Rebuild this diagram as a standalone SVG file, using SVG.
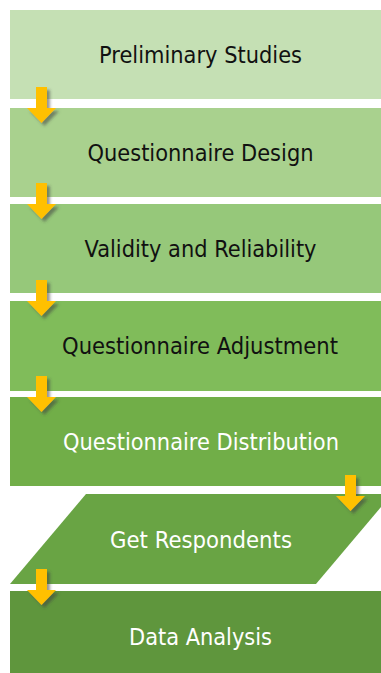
<svg xmlns="http://www.w3.org/2000/svg" width="381" height="673" viewBox="0 0 381 673">
  <style>
    .lbl { font-family: "DejaVu Sans", "Liberation Sans", sans-serif; font-size: 23px; text-anchor: middle; }
    .dark { fill: #111111; }
    .light { fill: #ffffff; }
    .arrow { fill: #FFC000; filter: url(#arrowShadow); }
  </style>
  <defs>
    <filter id="arrowShadow" x="-50%" y="-50%" width="200%" height="200%">
      <feGaussianBlur in="SourceAlpha" stdDeviation="1.4"/>
      <feOffset dx="3" dy="3" result="blur"/>
      <feFlood flood-color="#404040" flood-opacity="0.55"/>
      <feComposite in2="blur" operator="in"/>
      <feMerge>
        <feMergeNode/>
        <feMergeNode in="SourceGraphic"/>
      </feMerge>
    </filter>
    <!-- down arrow, origin at top centre of the shaft -->
    <path id="downArrow" d="M-5.5,0 h11 v21 h9 l-14.5,15 l-14.5,-15 h9 z"/>
  </defs>
  <rect width="381" height="673" fill="#ffffff"/>

  <g id="preliminary-studies">
    <rect x="10" y="10" width="381" height="89" fill="#C5E0B4"/>
    <text class="lbl dark" x="200.5" y="63" textLength="203" lengthAdjust="spacingAndGlyphs">Preliminary Studies</text>
  </g>
  <g id="questionnaire-design">
    <rect x="10" y="108" width="381" height="89" fill="#A9D18E"/>
    <text class="lbl dark" x="200.5" y="161" textLength="226" lengthAdjust="spacingAndGlyphs">Questionnaire Design</text>
  </g>
  <g id="validity-reliability">
    <rect x="10" y="204" width="381" height="89" fill="#96C87A"/>
    <text class="lbl dark" x="200.5" y="257" textLength="232" lengthAdjust="spacingAndGlyphs">Validity and Reliability</text>
  </g>
  <g id="questionnaire-adjustment">
    <rect x="10" y="301" width="381" height="90" fill="#80BC5A"/>
    <text class="lbl dark" x="200" y="354" textLength="276" lengthAdjust="spacingAndGlyphs">Questionnaire Adjustment</text>
  </g>
  <g id="questionnaire-distribution">
    <rect x="10" y="397" width="381" height="89" fill="#71AE48"/>
    <text class="lbl light" x="201" y="450" textLength="276" lengthAdjust="spacingAndGlyphs">Questionnaire Distribution</text>
  </g>
  <g id="get-respondents">
    <polygon points="86,494 392,494 316,584 10,584" fill="#69A444"/>
    <text class="lbl light" x="201" y="548" textLength="182" lengthAdjust="spacingAndGlyphs">Get Respondents</text>
  </g>
  <g id="data-analysis">
    <rect x="10" y="591" width="381" height="90" fill="#5F963D"/>
    <text class="lbl light" x="200.5" y="645" textLength="143" lengthAdjust="spacingAndGlyphs">Data Analysis</text>
  </g>

  <g id="connectors">
    <use href="#downArrow" class="arrow" x="41.5" y="87"/>
    <use href="#downArrow" class="arrow" x="41.5" y="183"/>
    <use href="#downArrow" class="arrow" x="41.5" y="280"/>
    <use href="#downArrow" class="arrow" x="41.5" y="376"/>
    <use href="#downArrow" class="arrow" x="350.5" y="475"/>
    <use href="#downArrow" class="arrow" x="41.5" y="569"/>
  </g>
</svg>
